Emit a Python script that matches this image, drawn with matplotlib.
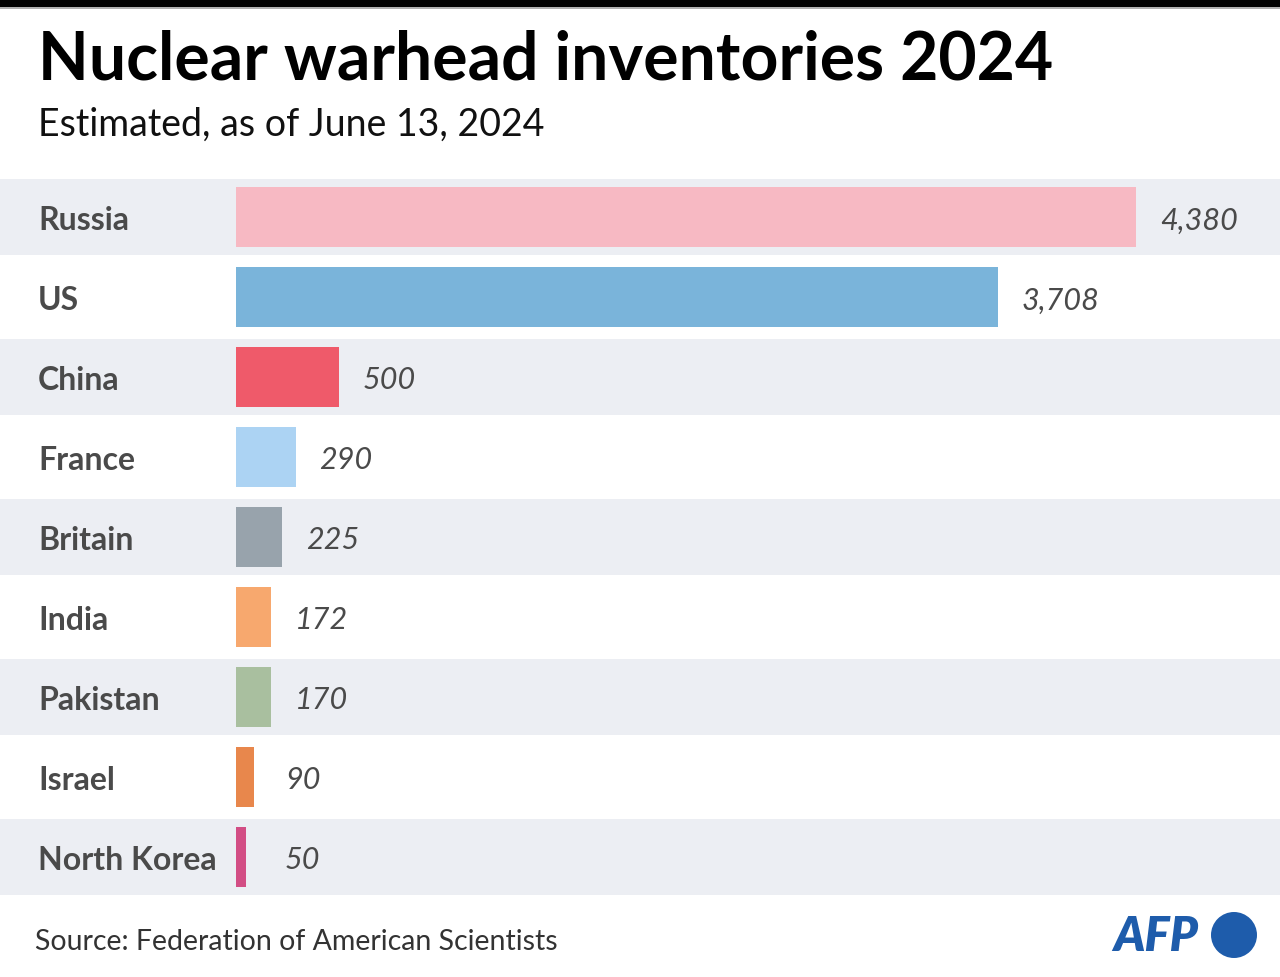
import matplotlib
matplotlib.use("Agg")
import matplotlib.pyplot as plt
import matplotlib.patches as mpatches

countries = ["Russia", "US", "China", "France", "Britain", "India",
             "Pakistan", "Israel", "North Korea"]
warheads = [4380, 3708, 500, 290, 225, 172, 170, 90, 50]
bar_colors = ["#f7b9c3", "#7ab4da", "#ef5a6a", "#acd3f3", "#98a3ac",
              "#f7a86e", "#a9bf9f", "#e8874c", "#d24d84"]

TITLE = "Nuclear warhead inventories 2024"
SUBTITLE = "Estimated, as of June 13, 2024"
SOURCE = "Source: Federation of American Scientists"

W, H = 1280, 978
BAND = "#eceef3"
LABEL = "#4a4a4a"
FONT = "Lato"

fig = plt.figure(figsize=(W / 100, H / 100), dpi=100)
fig.patch.set_facecolor("white")

# top rule
fig.add_artist(mpatches.Rectangle((0, 1 - 8 / H), 1, 8 / H, transform=fig.transFigure,
                                  color="black", lw=0))
fig.add_artist(mpatches.Rectangle((0, 1 - 10 / H), 1, 2 / H, transform=fig.transFigure,
                                  color="#b0b0b0", lw=0))

fig.text(38 / W, 1 - 61 / H, TITLE, fontsize=47.5, fontweight="bold", family=FONT,
         color="black", va="center", ha="left")
fig.text(38 / W, 1 - 125 / H, SUBTITLE, fontsize=27, family=FONT,
         color="#111111", va="center", ha="left")

# chart area: rows from y=178 to y=898 px, x maps so 0 -> 236 px, 4380 -> 1136 px
ax = fig.add_axes([0, 1 - 898 / H, 1, 720 / H])
scale = (1136 - 236) / warheads[0]
ax.set_xlim(-236 / scale, (W - 236) / scale)
ax.set_ylim(len(countries) - 0.5, -0.5)
ax.axis("off")

for i in range(0, len(countries), 2):
    ax.axhspan(i - 0.475, i + 0.475, color=BAND, lw=0, zorder=0)

ax.barh(range(len(countries)), warheads, height=0.75, color=bar_colors, zorder=2)

for i, (name, val) in enumerate(zip(countries, warheads)):
    ax.text(-236 / scale + 38 / scale, i + 0.03, name, fontsize=23, fontweight="bold",
            family=FONT, color=LABEL, va="center", ha="left")
    # value labels sit just past the bar, with a minimum x for tiny bars
    lx = max(val + 24 / scale, 49 / scale)
    ax.text(lx, i + 0.03, f"{val:,}", fontsize=22, style="italic",
            family=FONT, color=LABEL, va="center", ha="left")

fig.text(35 / W, 1 - 942 / H, SOURCE, fontsize=20.5, family=FONT,
         color="#333333", va="center", ha="left")

# AFP logo
fig.text(1113 / W, 1 - 937 / H, "AFP", fontsize=34, fontweight="heavy", style="italic",
         family=FONT, color="#1e5cab", va="center", ha="left")
fig.add_artist(mpatches.Ellipse((1234 / W, 1 - 936 / H), 46 / W, 46 / H,
                                transform=fig.transFigure, color="#1e5cab", lw=0))

fig.savefig("out.png", dpi=100, facecolor="white")
plt.close(fig)
